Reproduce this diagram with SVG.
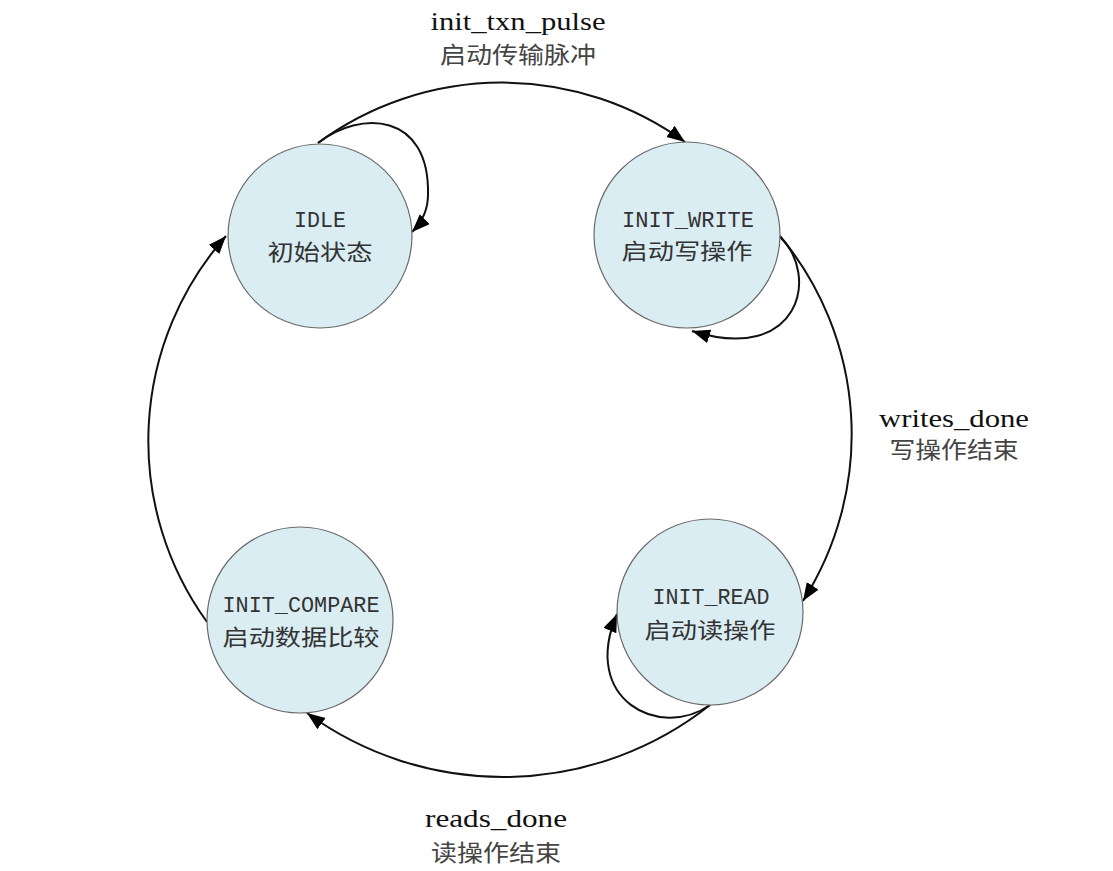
<svg xmlns="http://www.w3.org/2000/svg" width="1113" height="871" viewBox="0 0 1113 871">
<style>
.node{fill:#daedf3;stroke:#6a6a6a;stroke-width:1.2}
.lat{font-family:"Liberation Mono",monospace;font-size:22px;fill:#333;text-anchor:middle}
.cjk{font-family:"Noto Sans CJK SC",sans-serif;font-size:22px;fill:#333;text-anchor:middle}
.lbl{font-family:"Liberation Serif",serif;font-size:25px;fill:#111;text-anchor:middle}
.lblc{font-family:"Noto Sans CJK SC",sans-serif;font-size:23px;fill:#444;text-anchor:middle}
.edge{fill:none;stroke:#111;stroke-width:2}
</style>
<defs>
<marker id="ah" markerUnits="userSpaceOnUse" markerWidth="20" markerHeight="16" refX="18" refY="7" orient="auto">
<path d="M0,0 L18,7 L0,14 z" fill="#000"/>
</marker>
</defs>
<rect width="1113" height="871" fill="#fff"/>
<g id="connectors">
<path class="edge" marker-end="url(#ah)" d="M318,143 A311,311 0 0,1 685,142"/>
<path class="edge" marker-end="url(#ah)" d="M780,236 A310,310 0 0,1 803,601"/>
<path class="edge" marker-end="url(#ah)" d="M710,705 A333,333 0 0,1 307,713"/>
<path class="edge" marker-end="url(#ah)" d="M207,622 A309,309 0 0,1 226,236"/>
<path class="edge" marker-end="url(#ah)" d="M318,143 C360,110 430,112 428,195 C428,210 422,222 412,232"/>
<path class="edge" marker-end="url(#ah)" d="M780,237 C820,275 800,365 692,331"/>
<path class="edge" marker-end="url(#ah)" d="M710,705 C660,740 580,700 617,614"/>
</g>
<g id="labels">
<text class="lbl" x="518" y="30" textLength="175" lengthAdjust="spacingAndGlyphs">init_txn_pulse</text>
<text class="lblc" x="518" y="63" textLength="156" lengthAdjust="spacingAndGlyphs">启动传输脉冲</text>
<text class="lbl" x="954" y="427" textLength="150" lengthAdjust="spacingAndGlyphs">writes_done</text>
<text class="lblc" x="954" y="458" textLength="129" lengthAdjust="spacingAndGlyphs">写操作结束</text>
<text class="lbl" x="496" y="827" textLength="142" lengthAdjust="spacingAndGlyphs">reads_done</text>
<text class="lblc" x="496" y="861" textLength="130" lengthAdjust="spacingAndGlyphs">读操作结束</text>
</g>
<g id="IDLE">
<circle class="node" cx="320" cy="236" r="92"/>
<text class="lat" x="320" y="227" textLength="52" lengthAdjust="spacingAndGlyphs">IDLE</text>
<text class="cjk" x="320" y="260" textLength="105" lengthAdjust="spacingAndGlyphs">初始状态</text>
</g>
<g id="INIT_WRITE">
<circle class="node" cx="687" cy="235" r="93"/>
<text class="lat" x="688" y="227" textLength="132" lengthAdjust="spacingAndGlyphs">INIT_WRITE</text>
<text class="cjk" x="687" y="259" textLength="131" lengthAdjust="spacingAndGlyphs">启动写操作</text>
</g>
<g id="INIT_READ">
<circle class="node" cx="710" cy="612" r="93"/>
<text class="lat" x="711" y="604" textLength="117" lengthAdjust="spacingAndGlyphs">INIT_READ</text>
<text class="cjk" x="710" y="638" textLength="131" lengthAdjust="spacingAndGlyphs">启动读操作</text>
</g>
<g id="INIT_COMPARE">
<circle class="node" cx="300" cy="620" r="93"/>
<text class="lat" x="301" y="612" textLength="157" lengthAdjust="spacingAndGlyphs">INIT_COMPARE</text>
<text class="cjk" x="301" y="645" textLength="157" lengthAdjust="spacingAndGlyphs">启动数据比较</text>
</g>
</svg>
